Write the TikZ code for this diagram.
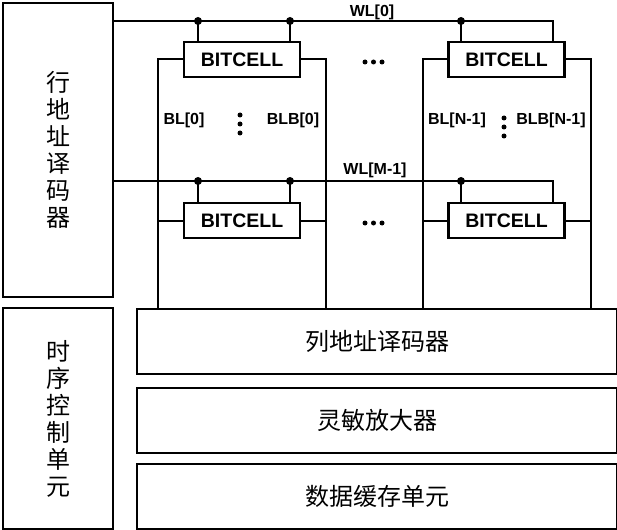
\documentclass[tikz,border=0pt]{standalone}
\usepackage{fontspec}
\setmainfont{Liberation Sans}
\newfontfamily\cjk{Noto Sans CJK SC}
\begin{document}
\begin{tikzpicture}[x=1pt,y=-1pt,
  wire/.style={line width=2pt},
  blk/.style={draw,line width=2.2pt,inner sep=0pt,anchor=north west},
  cell/.style={draw,line width=2.2pt,minimum width=116pt,minimum height=35pt,inner sep=0pt,font=\fontsize{19.5}{19.5}\selectfont\bfseries},
  lbl/.style={font=\fontsize{16}{16}\selectfont\bfseries,inner sep=0pt},
  cn/.style={font=\cjk\fontsize{24}{27}\selectfont,align=center,inner sep=0pt},
  dotc/.style={circle,fill,inner sep=0pt,minimum size=8pt},
  sdot/.style={circle,fill,inner sep=0pt,minimum size=5pt}]
\useasboundingbox (0,0) rectangle (617,529);
% left blocks
\node[blk,minimum width=110pt,minimum height=294pt] (row) at (2,2) {};
\node[cn] at (row.center) {行\\地\\址\\译\\码\\器};
\node[blk,minimum width=110pt,minimum height=221pt] (tim) at (2,307) {};
\node[cn] at (tim.center) {时\\序\\控\\制\\单\\元};
% bottom blocks
\node[blk,minimum width=480pt,minimum height=65pt] (col) at (136,308) {};
\node[cn] at (col.center) {列地址译码器};
\node[blk,minimum width=480pt,minimum height=65pt] (sa) at (136,387) {};
\node[cn] at (sa.center) {灵敏放大器};
\node[blk,minimum width=480pt,minimum height=65pt] (buf) at (136,463) {};
\node[cn] at (buf.center) {数据缓存单元};
% cells
\node[cell] (c00) at (242,59.5) {BITCELL};
\node[cell] (c01) at (506.5,59.5) {BITCELL};
\node[cell] (c10) at (242,220.5) {BITCELL};
\node[cell] (c11) at (506.5,220.5) {BITCELL};
% coordinates
\coordinate (w0s) at (row.east |- 0,21);
\coordinate (w1s) at (row.east |- 0,181);
\coordinate (d00a) at (198,21);
\coordinate (d00b) at (290,21);
\coordinate (d01a) at (461,21);
\coordinate (d01b) at (553,21);
\coordinate (d10a) at (198,181);
\coordinate (d10b) at (290,181);
\coordinate (d11a) at (461,181);
\coordinate (d11b) at (553,181);
\coordinate (bl0) at (158,309);
\coordinate (blb0) at (326,309);
\coordinate (bln) at (423,309);
\coordinate (blbn) at (591,309);
% word lines
\draw[wire] (w0s) -- (d01b) -- (d01b |- c01.north);
\draw[wire] (w1s) -- (d11b) -- (d11b |- c11.north);
\draw[wire] (d00a) -- (d00a |- c00.north);
\draw[wire] (d00b) -- (d00b |- c00.north);
\draw[wire] (d01a) -- (d01a |- c01.north);
\draw[wire] (d10a) -- (d10a |- c10.north);
\draw[wire] (d10b) -- (d10b |- c10.north);
\draw[wire] (d11a) -- (d11a |- c11.north);
\node[dotc] at (d00a) {};
\node[dotc] at (d00b) {};
\node[dotc] at (d01a) {};
\node[dotc] at (d10a) {};
\node[dotc] at (d10b) {};
\node[dotc] at (d11a) {};
% bit lines
\draw[wire] (c00.west) -| (bl0);
\draw[wire] (c00.east) -| (blb0);
\draw[wire] (c01.west) -| (bln);
\draw[wire] (c01.east) -| (blbn);
\draw[wire] (c10.west) -- (bl0 |- c10.west);
\draw[wire] (c10.east) -- (blb0 |- c10.east);
\draw[wire] (c11.west) -- (bln |- c11.west);
\draw[wire] (c11.east) -- (blbn |- c11.east);
% labels
\node[lbl] (lw0) at (372,12) {WL[0]};
\node[lbl] (lw1) at (375,170) {WL[M-1]};
\node[lbl] (lb0) at (184,120) {BL[0]};
\node[lbl] (lbb0) at (293,120) {BLB[0]};
\node[lbl] (lbn) at (457,120) {BL[N-1]};
\node[lbl] (lbbn) at (551,120) {BLB[N-1]};
% ellipsis dots
\foreach \y [count=\i] in {115,124,133} \node[sdot] (va\i) at (240,\y) {};
\foreach \y [count=\i] in {118,127,136} \node[sdot] (vb\i) at (504,\y) {};
\foreach \x [count=\i] in {365,373.5,382} {
  \node[sdot] (ha\i) at (\x,62) {};
  \node[sdot] (hb\i) at (\x,223) {};
}
\end{tikzpicture}
\end{document}
